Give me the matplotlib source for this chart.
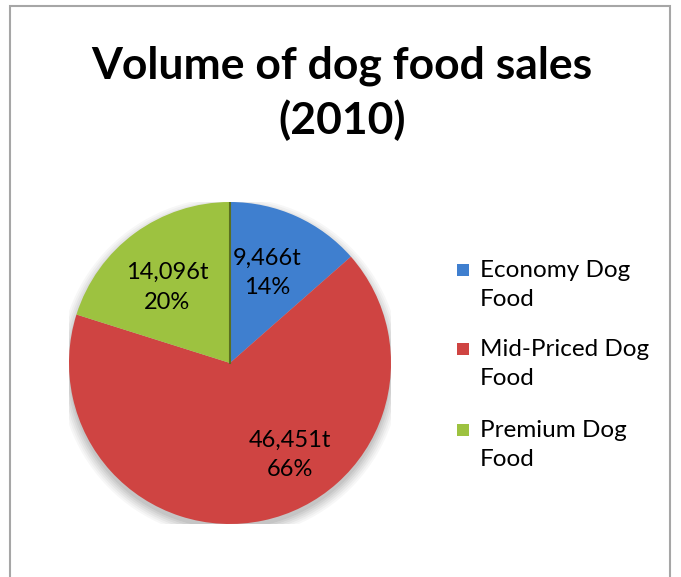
import matplotlib.pyplot as plt
from matplotlib.patches import Rectangle, Circle

# Dog food sales volume by price segment, tonnes (2010)
segments = ["Economy Dog\nFood", "Mid-Priced Dog\nFood", "Premium Dog\nFood"]
tonnes = [9466, 46451, 14096]
colors = ["#3f7fcf", "#cf4442", "#9dc240"]

total = sum(tonnes)
labels = [f"{t:,}t\n{t / total:.0%}" for t in tonnes]

plt.rcParams["font.family"] = ["Lato", "DejaVu Sans"]

W, H = 681, 577
fig = plt.figure(figsize=(W / 100, H / 100), dpi=100)

# chart frame (runs off the bottom edge)
fig.patches.append(Rectangle((10 / W, -0.02), 660 / W, (H - 6) / H + 0.02,
                             transform=fig.transFigure, fill=False,
                             edgecolor="#a6a6a6", linewidth=1.5))

fig.text(342 / W, 1 - 66 / H, "Volume of dog food sales", ha="center", va="center",
         fontsize=32, fontweight="bold")
fig.text(342 / W, 1 - 120 / H, "(2010)", ha="center", va="center",
         fontsize=32, fontweight="bold")

# pie centred at (230, 363) px with radius ~161 px
cx, cy, r = 230, 363, 161
ax = fig.add_axes([(cx - r) / W, (H - cy - r) / H, 2 * r / W, 2 * r / H])

# soft drop shadow under the pie
for k, a in zip(range(6), [0.05, 0.05, 0.04, 0.04, 0.03, 0.03]):
    ax.add_patch(Circle((0.0, -0.03), 1.0 + 0.012 * k, color="black", alpha=a,
                        linewidth=0, zorder=0))

wedges, _ = ax.pie(tonnes, colors=colors, startangle=90, counterclock=False,
                   radius=1.0, wedgeprops=dict(linewidth=0, zorder=1))

# dark seam where the premium slice meets the economy slice
ax.plot([0, 0], [0, 1], color="#5a7020", linewidth=1.5, zorder=2)

label_pos = [(0.23, 0.56), (0.37, -0.57), (-0.39, 0.47)]
for (x, y), txt in zip(label_pos, labels):
    ax.text(x, y, txt, ha="center", va="center", fontsize=17,
            linespacing=1.5, color="black", zorder=3)

ax.set_xlim(-1, 1)
ax.set_ylim(-1, 1)
ax.set_aspect("equal")
ax.axis("off")

# legend: square key plus two-line label per segment
entry_tops = [270, 349, 430]
for y, c, name in zip(entry_tops, colors, segments):
    fig.patches.append(Rectangle((457 / W, 1 - (y + 6) / H), 12 / W, 12 / H,
                                 transform=fig.transFigure, facecolor=c,
                                 edgecolor="none"))
    fig.text(480 / W, 1 - (y + 15) / H, name, ha="left", va="center",
             fontsize=17.5, linespacing=1.46)

fig.savefig("out.png", dpi=100)
